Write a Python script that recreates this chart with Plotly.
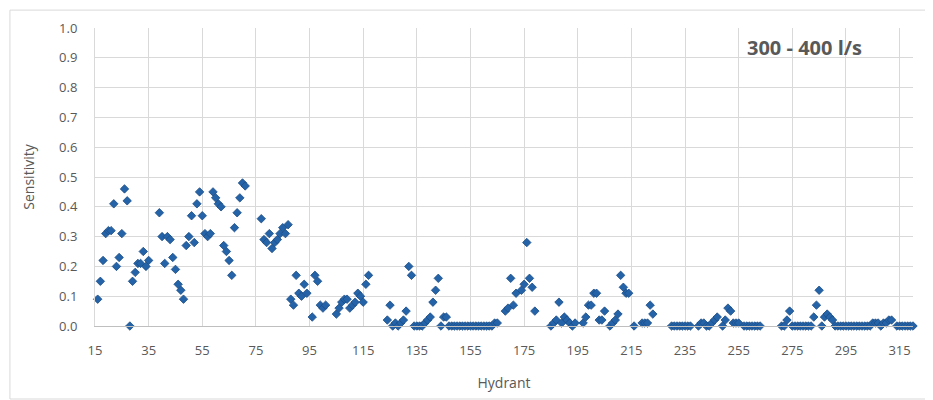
import plotly.graph_objects as go

# Hydrant IDs and sensitivity values
hydrant = [
    16, 17, 18, 19, 20, 21, 22, 23, 24, 25, 26, 27, 28, 29, 30, 31, 32, 33, 34, 35,
    39, 40, 41, 42, 43, 44, 45, 46, 47, 48, 49, 50, 51, 52, 53, 54, 55, 56, 57, 58,
    59, 60, 61, 62, 63, 64, 65, 66, 67, 68, 69, 70, 71,
    77, 78, 79, 80, 81, 82, 83, 84, 85, 86, 87, 88, 89, 90, 91, 92, 93, 94,
    96, 97, 98, 99, 100, 101,
    105, 106, 107, 108, 109, 110, 111, 112, 113, 114, 115, 116, 117,
    124, 125, 126, 127, 128, 129, 130, 131, 132, 133, 134, 135, 136, 137, 138, 139,
    140, 141, 142, 143, 144, 145, 146,
    147, 148, 149, 150, 151, 152, 153, 154, 155, 156, 157, 158, 159, 160, 161, 162, 163,
    164, 165,
    168, 169, 170, 171, 172, 174, 175, 176, 177, 178, 179,
    185, 186, 187, 188, 189, 190, 191, 192, 193, 194,
    197, 198, 199, 200, 201, 202, 203, 204, 205,
    207, 208, 209, 210, 211, 212, 213, 214, 216, 219, 220, 221, 222, 223,
    230, 231, 232, 233, 234, 235, 236, 237,
    240, 241, 242, 243, 244, 245, 246, 247, 249, 250, 251, 252, 253, 254, 255,
    257, 258, 259, 260, 261, 262, 263,
    271, 272, 273, 274, 275, 276, 277, 278, 279, 280, 281, 282,
    283, 284, 285, 286, 287, 288, 289, 290,
    291, 292, 293, 294, 295, 296, 297, 298, 299, 300, 301, 302, 303, 304,
    305, 306, 307, 308, 309, 310, 311, 312,
    314, 315, 316, 317, 318, 319, 320,
]
sensitivity = [
    0.09, 0.15, 0.22, 0.31, 0.32, 0.32, 0.41, 0.20, 0.23, 0.31, 0.46, 0.42, 0.00, 0.15, 0.18, 0.21, 0.21, 0.25, 0.20, 0.22,
    0.38, 0.30, 0.21, 0.30, 0.29, 0.23, 0.19, 0.14, 0.12, 0.09, 0.27, 0.30, 0.37, 0.28, 0.41, 0.45, 0.37, 0.31, 0.30, 0.31,
    0.45, 0.43, 0.41, 0.40, 0.27, 0.25, 0.22, 0.17, 0.33, 0.38, 0.43, 0.48, 0.47,
    0.36, 0.29, 0.28, 0.31, 0.26, 0.28, 0.29, 0.31, 0.33, 0.31, 0.34, 0.09, 0.07, 0.17, 0.11, 0.10, 0.14, 0.11,
    0.03, 0.17, 0.15, 0.07, 0.06, 0.07,
    0.04, 0.06, 0.08, 0.09, 0.09, 0.06, 0.07, 0.08, 0.11, 0.10, 0.08, 0.14, 0.17,
    0.02, 0.07, 0.00, 0.01, 0.00, 0.01, 0.02, 0.05, 0.20, 0.17, 0.00, 0.00, 0.00, 0.00, 0.01, 0.02,
    0.03, 0.08, 0.12, 0.16, 0.00, 0.03, 0.03,
    0.00, 0.00, 0.00, 0.00, 0.00, 0.00, 0.00, 0.00, 0.00, 0.00, 0.00, 0.00, 0.00, 0.00, 0.00, 0.00, 0.00,
    0.01, 0.01,
    0.05, 0.06, 0.16, 0.07, 0.11, 0.12, 0.14, 0.28, 0.16, 0.13, 0.05,
    0.00, 0.01, 0.02, 0.08, 0.01, 0.03, 0.02, 0.01, 0.00, 0.01,
    0.01, 0.03, 0.07, 0.07, 0.11, 0.11, 0.02, 0.02, 0.05,
    0.00, 0.01, 0.02, 0.04, 0.17, 0.13, 0.11, 0.11, 0.00, 0.01, 0.01, 0.01, 0.07, 0.04,
    0.00, 0.00, 0.00, 0.00, 0.00, 0.00, 0.00, 0.00,
    0.00, 0.01, 0.01, 0.00, 0.00, 0.01, 0.02, 0.03, 0.00, 0.02, 0.06, 0.05, 0.01, 0.01, 0.01,
    0.00, 0.00, 0.00, 0.00, 0.00, 0.00, 0.00,
    0.00, 0.00, 0.02, 0.05, 0.00, 0.00, 0.00, 0.00, 0.00, 0.00, 0.00, 0.00,
    0.03, 0.07, 0.12, 0.00, 0.03, 0.04, 0.03, 0.02,
    0.00, 0.00, 0.00, 0.00, 0.00, 0.00, 0.00, 0.00, 0.00, 0.00, 0.00, 0.00, 0.00, 0.00,
    0.01, 0.01, 0.01, 0.00, 0.01, 0.01, 0.02, 0.02,
    0.00, 0.00, 0.00, 0.00, 0.00, 0.00, 0.00,
]
x_ticks = [15, 35, 55, 75, 95, 115, 135, 155, 175, 195, 215, 235, 255, 275, 295, 315]
y_ticks = [0.0, 0.1, 0.2, 0.3, 0.4, 0.5, 0.6, 0.7, 0.8, 0.9, 1.0]
title_text = "300 - 400 l/s"

FONT = "Liberation Sans Narrow, Open Sans, Arial, sans-serif"
GRID = "#D9D9D9"
TXT = "#595959"

fig = go.Figure(
    go.Scatter(
        x=hydrant,
        y=sensitivity,
        mode="markers",
        marker=dict(symbol="diamond", size=6.5, color="#2563A8",
                    line=dict(color="#1B4C85", width=0.8)),
        cliponaxis=False,
        showlegend=False,
    )
)

fig.update_layout(
    width=933,
    height=400,
    margin=dict(l=87, r=28, t=20, b=82),
    paper_bgcolor="white",
    plot_bgcolor="white",
    font=dict(family=FONT, size=13, color=TXT),
    xaxis=dict(
        range=[15, 320],
        tickvals=x_ticks,
        ticktext=[str(v) for v in x_ticks],
        showgrid=True, gridcolor=GRID, gridwidth=1,
        showline=True, linecolor="#BFBFBF", linewidth=1,
        zeroline=False, ticks="",
        tickfont=dict(size=13, color=TXT),
        ticklabelstandoff=12,
        title=dict(text="Hydrant", font=dict(size=14, color=TXT), standoff=20),
    ),
    yaxis=dict(
        range=[0, 1],
        tickvals=y_ticks,
        tickformat=".1f",
        showgrid=True, gridcolor=GRID, gridwidth=1,
        showline=True, linecolor=GRID, linewidth=1,
        zeroline=False, ticks="",
        tickfont=dict(size=13, color=TXT),
        ticklabelstandoff=14,
        title=dict(text="Sensitivity", font=dict(size=14, color=TXT), standoff=21),
    ),
    annotations=[
        dict(text="<b>" + title_text + "</b>", xref="paper", yref="paper",
             x=0.867, y=0.936, xanchor="center", yanchor="middle",
             showarrow=False, font=dict(size=20, color=TXT, family=FONT)),
    ],
    shapes=[
        dict(type="rect", xref="paper", yref="paper",
             x0=-0.104, x1=1.016, y0=-0.245, y1=1.06,
             line=dict(color=GRID, width=1), fillcolor="rgba(0,0,0,0)", layer="below"),
    ],
)

fig.write_html("out.html")
